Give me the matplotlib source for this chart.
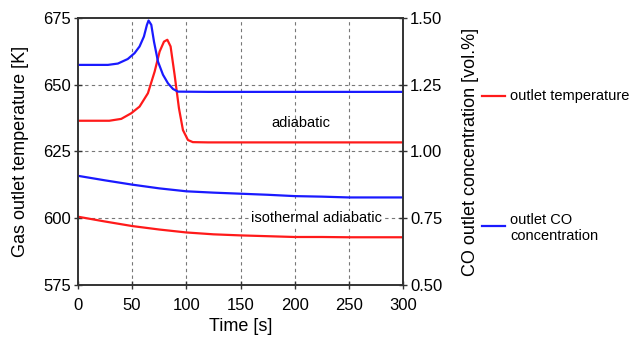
import matplotlib
matplotlib.use("Agg")
import matplotlib.pyplot as plt
from matplotlib.lines import Line2D

plt.rcParams['font.family'] = ['Liberation Sans', 'DejaVu Sans']

# adiabatic run
t_adi_temp = [0, 29, 40, 49.2, 56.9, 64.6, 70.8, 75.4, 79.4, 82.5, 85.5, 89.2, 93.2, 96.9,
              101.5, 106, 120, 200, 300]
temp_adi = [636.5, 636.5, 637.2, 639.3, 641.8, 646.8, 654.9, 662.4, 666.1, 666.8, 664.3, 653.7,
            641.2, 633.0, 629.3, 628.5, 628.4, 628.4, 628.4]
t_adi_co = [0, 27.7, 36.9, 46, 52.3, 56.9, 60.9, 63.7, 65.2, 67.7, 70.2, 73.9, 78.5, 83.1,
            87.7, 92.3, 120, 200, 300]
co_adi = [1.324, 1.324, 1.329, 1.346, 1.368, 1.393, 1.43, 1.474, 1.49, 1.474, 1.411, 1.336,
          1.287, 1.255, 1.234, 1.224, 1.223, 1.223, 1.223]

# isothermal adiabatic run
t_iso = [0, 25, 50, 75, 100, 125, 150, 175, 200, 225, 250, 275, 300]
temp_iso = [600.6, 598.8, 597.1, 595.8, 594.7, 594.0, 593.6, 593.3, 593.0, 593.0, 592.9, 592.9, 592.9]
co_iso = [0.909, 0.892, 0.876, 0.862, 0.851, 0.846, 0.842, 0.838, 0.833, 0.831, 0.828, 0.828, 0.828]

RED = '#ff1a1a'
BLUE = '#1a1aff'
DARK = '#333333'

fig = plt.figure(figsize=(6.33, 3.37), dpi=100)
ax = fig.add_axes([0.123, 0.154, 0.514, 0.793])
ax2 = ax.twinx()

ax.plot(t_adi_temp, temp_adi, color=RED, lw=1.6)
ax.plot(t_iso, temp_iso, color=RED, lw=1.6)
ax2.plot(t_adi_co, co_adi, color=BLUE, lw=1.6)
ax2.plot(t_iso, co_iso, color=BLUE, lw=1.6)

ax.set_xlim(0, 300)
ax.set_ylim(575, 675)
ax2.set_ylim(0.5, 1.5)
ax.set_xticks([0, 50, 100, 150, 200, 250, 300])
ax.set_yticks([575, 600, 625, 650, 675])
ax2.set_yticks([0.5, 0.75, 1.0, 1.25, 1.5])
ax2.set_yticklabels(['0.50', '0.75', '1.00', '1.25', '1.50'])

# dashed grid only inside the box
for x in [50, 100, 150, 200, 250]:
    ax.axvline(x, color='#777777', ls=(0, (3, 3)), lw=0.8, zorder=0)
for y in [600, 625, 650]:
    ax.axhline(y, color='#777777', ls=(0, (3, 3)), lw=0.8, zorder=0)

for a in (ax, ax2):
    for s in a.spines.values():
        s.set_color(DARK)
        s.set_linewidth(1.2)
    a.tick_params(colors='black', labelsize=12, direction='inout', length=6, width=1,
                  color=DARK, pad=2)
ax.tick_params(axis='x', pad=6)

ax.set_xlabel('Time [s]', fontsize=13, labelpad=4)
ax.set_ylabel('Gas outlet temperature [K]', fontsize=13, labelpad=10)
ax2.set_ylabel('CO outlet concentration [vol.%]', fontsize=13, labelpad=14)

ax.text(206, 635.5, 'adiabatic', fontsize=10.5, ha='center', va='center')
ax.text(220, 600, 'isothermal adiabatic', fontsize=10.5, ha='center', va='center',
        bbox=dict(facecolor='white', edgecolor='none', pad=0.5))

# legend drawn by hand on the right
fig.add_artist(Line2D([482 / 633, 505 / 633], [1 - 96 / 337] * 2, color=RED, lw=1.6))
fig.text(510 / 633, 1 - 96 / 337, 'outlet temperature', fontsize=10.5, va='center')
fig.add_artist(Line2D([482 / 633, 505 / 633], [1 - 226 / 337] * 2, color=BLUE, lw=1.6))
fig.text(510 / 633, 1 - 228 / 337, 'outlet CO\nconcentration', fontsize=10.5, va='center',
         linespacing=1.1)

fig.savefig('out.png', dpi=100)
